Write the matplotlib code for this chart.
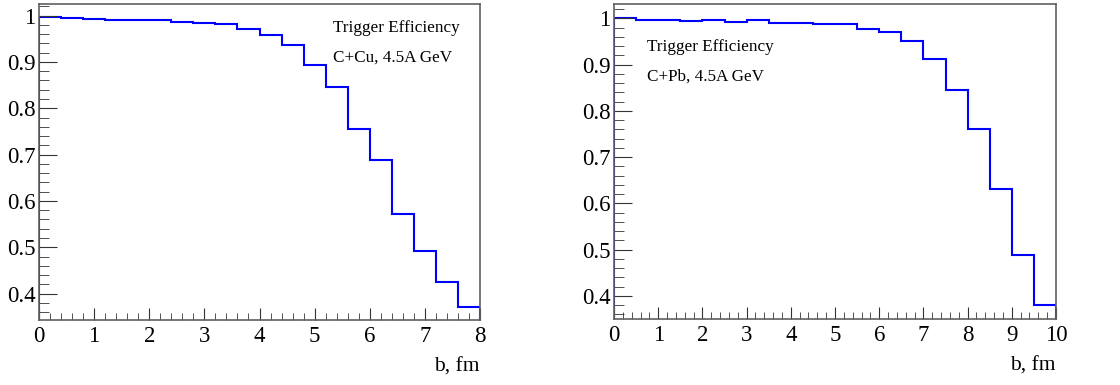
import numpy as np
import matplotlib
matplotlib.use("Agg")
import matplotlib.pyplot as plt
from matplotlib.ticker import MultipleLocator

# C+Cu, 20 bins of 0.4 fm
cu_edges = np.arange(0, 8.01, 0.4)
cu_eff = [0.997, 0.994, 0.993, 0.991, 0.991, 0.991, 0.9865, 0.984, 0.981, 0.970,
          0.9585, 0.936, 0.894, 0.846, 0.756, 0.6875, 0.571, 0.491, 0.425, 0.372]

# C+Pb, 20 bins of 0.5 fm
pb_edges = np.arange(0, 10.01, 0.5)
pb_eff = [1.000, 0.9963, 0.9963, 0.994, 0.996, 0.9928, 0.996, 0.9906, 0.9906, 0.987,
          0.987, 0.976, 0.970, 0.9505, 0.912, 0.845, 0.760, 0.631, 0.488, 0.381]

plt.rcParams['font.family'] = ['Liberation Serif', 'DejaVu Serif']

fig = plt.figure(figsize=(11.2, 3.85), dpi=100)
W, H = 1120, 385

def panel(box, edges, eff, xmax, ylim, label, text_xy):
    x0, y0, x1, y1 = box
    ax = fig.add_axes([x0 / W, 1 - y1 / H, (x1 - x0) / W, (y1 - y0) / H])
    ax.stairs(eff, edges, color='#0000ff', lw=1.5)
    ax.set_xlim(0, xmax)
    ax.set_ylim(*ylim)
    ax.xaxis.set_major_locator(MultipleLocator(1))
    ax.xaxis.set_minor_locator(MultipleLocator(0.2))
    ax.yaxis.set_minor_locator(MultipleLocator(0.02))
    ax.set_yticks([0.4, 0.5, 0.6, 0.7, 0.8, 0.9, 1.0])
    ax.set_yticklabels(['0.4', '0.5', '0.6', '0.7', '0.8', '0.9', '1'])
    ax.tick_params(direction='in', which='major', labelsize=16.5, color='#333333')
    ax.tick_params(axis='x', which='major', length=9, pad=4)
    ax.tick_params(axis='x', which='minor', length=5, direction='in', color='#333333')
    ax.tick_params(axis='y', which='major', length=13, pad=2.5)
    ax.tick_params(axis='y', which='minor', length=7, direction='in', color='#333333')
    for s in ax.spines.values():
        s.set_color('#606060')
        s.set_linewidth(1.2)
    ax.set_xlabel('b, fm', fontsize=15.5, loc='right', labelpad=8)
    tx, ty = text_xy
    ax.text((tx - x0) / (x1 - x0), 1 - (ty - y0) / (y1 - y0), 'Trigger Efficiency',
            transform=ax.transAxes, fontsize=12.3, va='center', ha='left')
    ax.text((tx - x0) / (x1 - x0), 1 - (ty + 30 - y0) / (y1 - y0), label,
            transform=ax.transAxes, fontsize=12.3, va='center', ha='left')
    return ax

panel((39, 4, 480, 320), cu_edges, cu_eff, 8, (0.343, 1.025),
      'C+Cu, 4.5A GeV', (333, 28))
panel((614, 4, 1056, 319), pb_edges, pb_eff, 10, (0.35, 1.031),
      'C+Pb, 4.5A GeV', (647, 47))

fig.savefig('out.png', dpi=100)
